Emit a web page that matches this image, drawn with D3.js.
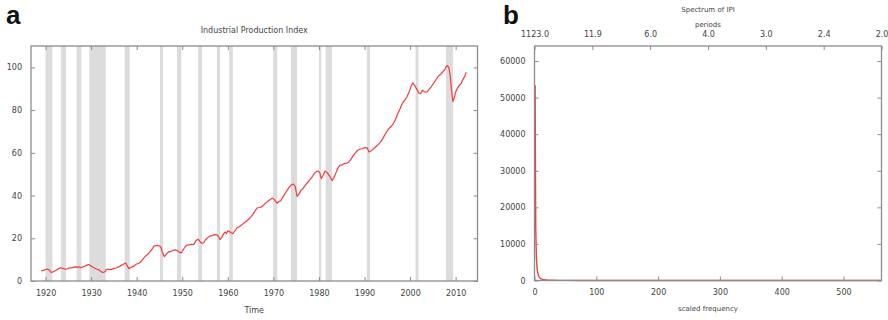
<!DOCTYPE html>
<html><head><meta charset="utf-8">
<script src="https://cdn.jsdelivr.net/npm/d3@7/dist/d3.min.js"></script>
<style>
body{margin:0;background:#fff;}
text{font-family:"DejaVu Sans",Verdana,sans-serif;fill:#444;}
</style></head><body>
<svg id="c" width="888" height="320"></svg>
<script>
// ---- Panel a data: Industrial Production Index (year, value) ----
const ipiYears = [1919.0,1919.5,1920.0,1920.5,1920.9,1921.2,1921.6,1922.0,1922.5,1923.0,1923.3,1923.8,1924.3,1924.6,1925.0,1925.5,1926.0,1926.5,1926.9,1927.3,1927.8,1928.2,1928.7,1929.0,1929.4,1929.8,1930.2,1930.7,1931.2,1931.7,1932.1,1932.5,1932.8,1933.0,1933.3,1933.6,1934.0,1934.5,1935.0,1935.5,1936.0,1936.5,1937.0,1937.4,1937.6,1937.9,1938.3,1938.7,1939.0,1939.5,1939.9,1940.4,1940.9,1941.4,1941.9,1942.4,1942.9,1943.4,1943.8,1944.2,1944.6,1945.0,1945.3,1945.6,1945.9,1946.1,1946.5,1947.0,1947.5,1948.0,1948.5,1948.9,1949.4,1949.8,1950.2,1950.6,1951.0,1951.5,1952.0,1952.5,1953.0,1953.5,1953.9,1954.3,1954.7,1955.1,1955.6,1956.0,1956.5,1957.0,1957.4,1957.8,1958.3,1958.7,1959.0,1959.4,1959.7,1960.0,1960.4,1960.8,1961.1,1961.5,1962.0,1962.5,1963.0,1963.5,1964.0,1964.5,1965.0,1965.5,1966.0,1966.5,1967.0,1967.5,1968.0,1968.5,1969.0,1969.7,1970.2,1970.8,1971.2,1971.6,1972.0,1972.5,1973.0,1973.5,1973.9,1974.4,1974.8,1975.2,1975.6,1976.0,1976.5,1977.0,1977.5,1978.0,1978.5,1979.0,1979.4,1979.9,1980.2,1980.5,1980.9,1981.3,1981.6,1982.0,1982.5,1982.9,1983.3,1983.7,1984.1,1984.6,1985.0,1985.5,1986.0,1986.5,1987.0,1987.5,1988.0,1988.5,1989.0,1989.5,1990.0,1990.6,1991.0,1991.3,1991.8,1992.3,1992.8,1993.3,1993.8,1994.3,1994.8,1995.3,1995.8,1996.3,1996.8,1997.3,1997.8,1998.3,1998.8,1999.3,1999.8,2000.2,2000.6,2001.0,2001.5,2001.9,2002.3,2002.7,2003.1,2003.4,2003.8,2004.2,2004.6,2005.0,2005.5,2005.9,2006.3,2006.8,2007.2,2007.6,2007.9,2008.2,2008.5,2008.8,2009.1,2009.4,2009.7,2010.0,2010.4,2010.8,2011.2,2011.6,2012.0,2012.3,2012.6];
const ipiValues = [4.7,5.0,5.4,5.5,5.0,4.0,4.2,4.7,5.3,5.9,6.2,5.9,5.5,5.6,6.0,6.1,6.4,6.6,6.5,6.6,6.3,6.6,7.0,7.3,7.7,7.3,6.7,6.1,5.6,5.2,4.6,4.0,4.1,4.3,5.3,5.6,5.3,5.4,5.9,6.1,6.6,7.2,7.7,8.3,8.4,7.2,5.8,6.3,6.6,7.1,7.9,8.2,9.0,10.4,11.6,12.5,13.6,15.0,16.3,16.6,16.6,16.4,15.8,13.8,12.0,11.4,12.6,13.6,13.9,14.3,14.6,14.3,13.4,13.2,14.6,15.9,16.8,16.9,17.2,17.0,18.9,19.5,18.4,17.6,17.9,19.3,20.3,21.0,21.2,21.6,21.8,21.3,19.4,20.5,21.8,23.0,22.2,23.5,23.1,22.5,22.2,23.4,24.8,25.4,26.2,27.1,27.8,28.8,29.9,31.2,32.9,34.3,34.4,34.8,35.9,36.8,37.7,38.8,38.1,36.4,37.2,37.5,39.0,40.7,42.4,43.9,44.9,45.4,44.2,39.6,40.6,42.3,43.3,44.9,46.1,47.4,48.7,50.4,51.2,51.5,50.6,47.9,49.5,51.4,51.1,50.2,48.6,47.0,48.4,50.5,52.7,54.2,54.3,54.9,55.0,55.6,56.9,58.6,60.0,61.2,61.7,61.9,62.4,62.3,60.4,60.7,61.5,62.5,63.4,64.5,65.9,67.8,69.6,71.2,72.3,73.6,75.6,78.4,80.6,83.1,84.5,86.2,88.5,91.0,92.8,91.6,89.7,88.0,87.7,89.3,88.7,88.4,88.6,89.8,90.8,92.0,93.6,94.9,96.1,96.9,98.0,98.9,100.3,100.8,99.9,96.5,89.2,84.0,85.6,88.4,90.3,91.6,92.3,94.4,95.7,97.8];
// NBER recessions [start, end]
const recStart = [1920.0,1923.35,1926.8,1929.6,1937.35,1945.1,1948.85,1953.5,1957.6,1960.3,1969.95,1973.85,1980.0,1981.5,1990.5,2001.2,2007.9];
const recEnd   = [1921.5,1924.5,1927.85,1933.2,1938.45,1945.8,1949.8,1954.35,1958.3,1961.1,1970.85,1975.2,1980.5,1982.85,1991.2,2001.85,2009.45];
const aXTicks = [1920,1930,1940,1950,1960,1970,1980,1990,2000,2010];
const aYTicks = [0,20,40,60,80,100];

// ---- Panel b data: periodogram (scaled frequency, spectral density) ----
const specFreq  = [1,2,3,4,5,6,7,8,9,10,12,14,17,20,25,30,40,50,70,100,150,200,300,400,500,561];
const specValue = [53400,14200,6400,3600,2300,1600,1150,860,660,520,360,270,190,140,95,70,45,30,18,12,7,5,3,2,2,1];
const bXTicks = [0,100,200,300,400,500];
const bYTicks = [0,10000,20000,30000,40000,50000,60000];
const periodLabels = ["1123.0","11.9","6.0","4.0","3.0","2.4","2.0"];

const svg = d3.select("#c");
const frameCol = "#8c8c8c", lineCol = "#f23c3c";

// ================= Panel a =================
const A = {l:31, r:477.5, t:46, b:281};
const xa = d3.scaleLinear().domain([1916.8,2014.8]).range([A.l,A.r]);
const ya = d3.scaleLinear().domain([0,110]).range([A.b,A.t]);
const ga = svg.append("g");
ga.selectAll("rect.rec").data(recStart).enter().append("rect")
  .attr("x",(d)=>xa(d)).attr("width",(d,i)=>Math.max(2.2,xa(recEnd[i])-xa(d)))
  .attr("y",A.t).attr("height",A.b-A.t).attr("fill","#dcdcdc");
const lineA = d3.line().x((d,i)=>xa(ipiYears[i])).y(d=>ya(d));
ga.append("path").datum(ipiValues).attr("d",lineA).attr("fill","none")
  .attr("stroke",lineCol).attr("stroke-width",1.2).attr("stroke-linejoin","round");
// axes
ga.append("g").attr("transform",`translate(0,${A.b})`)
  .call(d3.axisBottom(xa).tickValues(aXTicks).tickSizeInner(-4).tickSizeOuter(0).tickPadding(9).tickFormat(d3.format("d")))
  .call(styleAxis);
ga.append("g").attr("transform",`translate(0,${A.t})`)
  .call(d3.axisTop(xa).tickValues(aXTicks).tickSizeInner(-4).tickSizeOuter(0).tickFormat(""))
  .call(styleAxis);
ga.append("g").attr("transform",`translate(${A.l},0)`)
  .call(d3.axisLeft(ya).tickValues(aYTicks).tickSizeInner(-4).tickSizeOuter(0).tickPadding(9))
  .call(styleAxis);
ga.append("g").attr("transform",`translate(${A.r},0)`)
  .call(d3.axisRight(ya).tickValues(aYTicks).tickSizeInner(-4).tickSizeOuter(0).tickFormat(""))
  .call(styleAxis);
ga.append("rect").attr("x",A.l).attr("y",A.t).attr("width",A.r-A.l).attr("height",A.b-A.t)
  .attr("fill","none").attr("stroke",frameCol).attr("stroke-width",1.3);
ga.append("text").attr("x",(A.l+A.r)/2).attr("y",33).attr("text-anchor","middle")
  .style("font-size","8px").text("Industrial Production Index");
ga.append("text").attr("x",(A.l+A.r)/2).attr("y",313).attr("text-anchor","middle")
  .style("font-size","8px").text("Time");
svg.append("text").attr("x",6).attr("y",24).style("font-family","Liberation Sans, Arial, sans-serif")
  .style("font-weight","bold").style("font-size","26px").style("fill","#111").text("a");

// ================= Panel b =================
const B = {l:534.5, r:881.5, t:46, b:280.5};
const xb = d3.scaleLinear().domain([0,561.5]).range([B.l,B.r]);
const yb = d3.scaleLinear().domain([0,64100]).range([B.b,B.t]);
const gb = svg.append("g");
const lineB = d3.line().x((d,i)=>xb(specFreq[i])).y(d=>yb(d));
gb.append("path").datum(specValue).attr("d",lineB).attr("fill","none")
  .attr("stroke",lineCol).attr("stroke-width",1.4).attr("stroke-linejoin","round");
gb.append("g").attr("transform",`translate(0,${B.b})`)
  .call(d3.axisBottom(xb).tickValues(bXTicks).tickSizeInner(-4).tickSizeOuter(0).tickPadding(9))
  .call(styleAxis);
const xp = d3.scalePoint().domain(periodLabels).range([B.l,B.r]);
gb.append("g").attr("transform",`translate(0,${B.t})`)
  .call(d3.axisTop(xp).tickSizeInner(-4).tickSizeOuter(0).tickPadding(9))
  .call(styleAxis);
gb.append("g").attr("transform",`translate(${B.l},0)`)
  .call(d3.axisLeft(yb).tickValues(bYTicks).tickSizeInner(-4).tickSizeOuter(0).tickPadding(9).tickFormat(d3.format("d")))
  .call(styleAxis);
gb.append("g").attr("transform",`translate(${B.r},0)`)
  .call(d3.axisRight(yb).tickValues(bYTicks).tickSizeInner(-4).tickSizeOuter(0).tickFormat(""))
  .call(styleAxis);
gb.append("rect").attr("x",B.l).attr("y",B.t).attr("width",B.r-B.l).attr("height",B.b-B.t)
  .attr("fill","none").attr("stroke",frameCol).attr("stroke-width",1.3);
gb.append("text").attr("x",(B.l+B.r)/2).attr("y",12).attr("text-anchor","middle")
  .style("font-size","7px").text("Spectrum of IPI");
gb.append("text").attr("x",(B.l+B.r)/2).attr("y",27).attr("text-anchor","middle")
  .style("font-size","7px").text("periods");
gb.append("text").attr("x",(B.l+B.r)/2).attr("y",311).attr("text-anchor","middle")
  .style("font-size","7px").text("scaled frequency");
svg.append("text").attr("x",503).attr("y",24).style("font-family","Liberation Sans, Arial, sans-serif")
  .style("font-weight","bold").style("font-size","26px").style("fill","#111").text("b");

function styleAxis(g){
  g.select(".domain").remove();
  g.selectAll(".tick line").attr("stroke",frameCol);
  g.selectAll(".tick text").style("font-size","8px").style("font-family","DejaVu Sans, Verdana, sans-serif").attr("fill","#444");
}
</script></body></html>
